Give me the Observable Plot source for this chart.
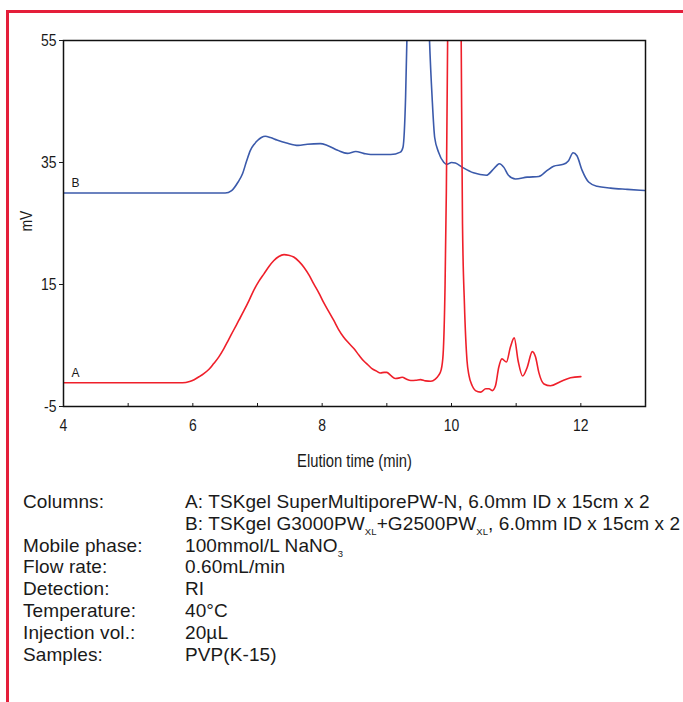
<!DOCTYPE html>
<html>
<head>
<meta charset="utf-8">
<script src="https://cdn.jsdelivr.net/npm/d3@7"></script>
<script src="https://cdn.jsdelivr.net/npm/@observablehq/plot@0.6"></script>
<style>
  html, body { margin: 0; padding: 0; background: #fff; }
  #page { position: relative; width: 683px; height: 702px; overflow: hidden; background: #fff; }
  #edge { position: absolute; left: 6px; top: 10px; right: 0; bottom: 0; border-top: 3px solid #e41e3a; border-left: 3px solid #e41e3a; }
  #chart { position: absolute; left: 0; top: 0; }
  #notes { position: absolute; left: 0; top: 491px; font-family: "Liberation Sans", Arial, sans-serif; font-size: 19px; color: #1a1a1a; letter-spacing: 0.1px; }
  .row { position: relative; height: 21.8px; line-height: 21.8px; white-space: nowrap; }
  .lab { position: absolute; left: 23px; }
  .val { position: absolute; left: 185px; }
  sub { font-size: 9.5px; vertical-align: -5px; line-height: 0; }
</style>
</head>
<body>
<div id="page">
  <div id="edge"></div>
  <div id="chart"></div>
  <div id="notes"></div>
</div>
<script>
// ---- data ----
const timeB = [4.0, 6.5, 6.6, 6.7, 6.77, 6.83, 6.89, 6.95, 7.0, 7.06, 7.12, 7.2, 7.3, 7.45, 7.63, 7.77, 7.97, 8.08, 8.24, 8.39, 8.52, 8.64, 8.75, 8.9, 9.06, 9.21, 9.25, 9.27, 9.29, 9.31, 9.34, 9.42, 9.5, 9.58, 9.63, 9.66, 9.7, 9.74, 9.8, 9.88, 9.93, 10.0, 10.06, 10.17, 10.34, 10.54, 10.63, 10.7, 10.74, 10.81, 10.88, 10.99, 11.17, 11.35, 11.48, 11.58, 11.73, 11.81, 11.88, 11.94, 12.02, 12.12, 12.25, 12.46, 12.72, 13.0];
const mvB   = [30.0, 30.0, 30.4, 31.8, 33.2, 35.2, 37.0, 38.0, 38.6, 39.1, 39.3, 39.1, 38.7, 38.2, 37.8, 38.0, 38.1, 37.8, 37.0, 36.5, 36.8, 36.5, 36.3, 36.3, 36.3, 36.7, 37.5, 40.0, 45.7, 55.0, 75.0, 110.0, 110.0, 85.0, 65.0, 55.0, 45.7, 39.1, 36.7, 35.05, 34.7, 35.0, 34.9, 34.2, 33.3, 32.9, 33.7, 34.5, 34.8, 34.2, 32.9, 32.3, 32.6, 32.7, 33.7, 34.4, 34.7, 35.3, 36.6, 36.1, 33.7, 31.8, 31.1, 30.8, 30.6, 30.4];

const timeA = [4.0, 5.84, 5.95, 6.02, 6.1, 6.17, 6.25, 6.32, 6.4, 6.48, 6.55, 6.63, 6.71, 6.79, 6.87, 6.94, 7.02, 7.1, 7.18, 7.25, 7.33, 7.41, 7.48, 7.56, 7.64, 7.72, 7.8, 7.87, 7.95, 8.02, 8.1, 8.18, 8.25, 8.33, 8.41, 8.49, 8.57, 8.64, 8.71, 8.77, 8.84, 8.9, 8.96, 9.0, 9.06, 9.13, 9.2, 9.24, 9.3, 9.37, 9.45, 9.52, 9.6, 9.68, 9.75, 9.8, 9.84, 9.87, 9.9, 9.92, 9.94, 9.98, 10.05, 10.12, 10.15, 10.17, 10.2, 10.24, 10.27, 10.32, 10.37, 10.45, 10.53, 10.58, 10.63, 10.68, 10.73, 10.78, 10.85, 10.91, 10.97, 11.03, 11.1, 11.17, 11.25, 11.3, 11.35, 11.43, 11.53, 11.69, 11.84, 12.0];
const mvA   = [-1.1, -1.1, -0.9, -0.6, -0.1, 0.4, 1.1, 2.0, 3.1, 4.5, 5.9, 7.5, 9.1, 10.7, 12.4, 14.0, 15.5, 16.75, 18.0, 18.9, 19.6, 19.9, 19.8, 19.5, 18.8, 17.8, 16.5, 15.1, 13.6, 12.1, 10.6, 9.1, 7.7, 6.4, 5.4, 4.5, 3.4, 2.5, 1.8, 1.2, 0.8, 0.5, 0.6, 0.6, 0.1, -0.4, -0.3, -0.2, -0.5, -0.74, -0.7, -0.6, -0.8, -0.85, -0.5, 0.1, 1.0, 3.5, 14.6, 30.0, 55.0, 110.0, 140.0, 100.0, 55.0, 25.0, 11.8, 2.5, 0.1, -1.6, -2.4, -2.65, -2.1, -2.1, -2.4, -1.6, 1.4, 2.8, 2.3, 4.7, 6.25, 2.5, 0.0, 1.4, 4.0, 3.1, 0.6, -1.3, -1.6, -0.9, -0.3, -0.1];

const seriesNames = ["A", "B"];
const yTicks = [-5, 15, 35, 55];
const xLabelTicks = [4, 6, 8, 10, 12];
const xAllTicks = [4, 5, 6, 7, 8, 9, 10, 11, 12, 13];
const xTitle = "Elution time (min)";
const yTitle = "mV";

const noteLabels = ["Columns:", "", "Mobile phase:", "Flow rate:", "Detection:", "Temperature:", "Injection vol.:", "Samples:"];
const noteValues = [
  "A: TSKgel SuperMultiporePW-N, 6.0mm ID x 15cm x 2",
  "B: TSKgel G3000PW<sub>XL</sub>+G2500PW<sub>XL</sub>, 6.0mm ID x 15cm x 2",
  "100mmol/L NaNO<sub>3</sub>",
  "0.60mL/min",
  "RI",
  "40°C",
  "20µL",
  "PVP(K-15)"
];

// ---- build ----
const rowsA = timeA.map((t, i) => ({t, v: mvA[i]}));
const rowsB = timeB.map((t, i) => ({t, v: mvB[i]}));
const tags = [
  {name: seriesNames[0], t: timeA[0], v: mvA[0]},
  {name: seriesNames[1], t: timeB[0], v: mvB[0]}
];
const blue = "#3b5aab";
const red = "#ef1f2a";
const sans = '"Liberation Sans", Arial, sans-serif';

const chart = Plot.plot({
  width: 683,
  height: 480,
  marginLeft: 63,
  marginRight: 38,
  marginTop: 40,
  marginBottom: 74,
  x: {domain: [4, 13]},
  y: {domain: [-5, 55]},
  style: {fontFamily: sans, fontSize: "16px", color: "#1a1a1a", background: "transparent"},
  marks: [
    Plot.line(rowsB, {x: "t", y: "v", stroke: blue, strokeWidth: 1.6, curve: "monotone-x", clip: true}),
    Plot.line(rowsA, {x: "t", y: "v", stroke: red, strokeWidth: 1.6, curve: "monotone-x", clip: true}),
    Plot.frame({stroke: "#111", strokeWidth: 1.5}),
    Plot.axisY(yTicks, {tickSize: 4, tickPadding: 3, label: null, fontSize: 17, tickFormat: d => `${d}`, className: "cond"}),
    Plot.axisX(xLabelTicks, {tickSize: 0, tickPadding: 12, label: null, fontSize: 17, tickFormat: d => `${d}`, className: "cond"}),
    Plot.axisX(xAllTicks, {tickSize: -3, fill: "none", label: null}),
    Plot.text([xTitle], {frameAnchor: "bottom", text: d => d, dy: 60, fontSize: 18, className: "cond"}),
    Plot.text([yTitle], {frameAnchor: "left", text: d => d, rotate: -90, dx: -37, dy: 8, fontSize: 17, className: "cond"}),
    Plot.text(tags, {x: "t", y: "v", text: "name", dx: 8, dy: -10, textAnchor: "start", fontSize: 12})
  ]
});
document.getElementById("chart").appendChild(chart);

// condensed look: compress axis texts horizontally
chart.querySelectorAll(".cond text").forEach(t => {
  const len = t.getComputedTextLength();
  if (len > 0) {
    t.setAttribute("textLength", (len * 0.82).toFixed(2));
    t.setAttribute("lengthAdjust", "spacingAndGlyphs");
  }
});

const notes = document.getElementById("notes");
noteLabels.forEach((lab, i) => {
  const row = document.createElement("div");
  row.className = "row";
  row.innerHTML = `<span class="lab">${lab}</span><span class="val">${noteValues[i]}</span>`;
  notes.appendChild(row);
});
</script>
</body>
</html>
